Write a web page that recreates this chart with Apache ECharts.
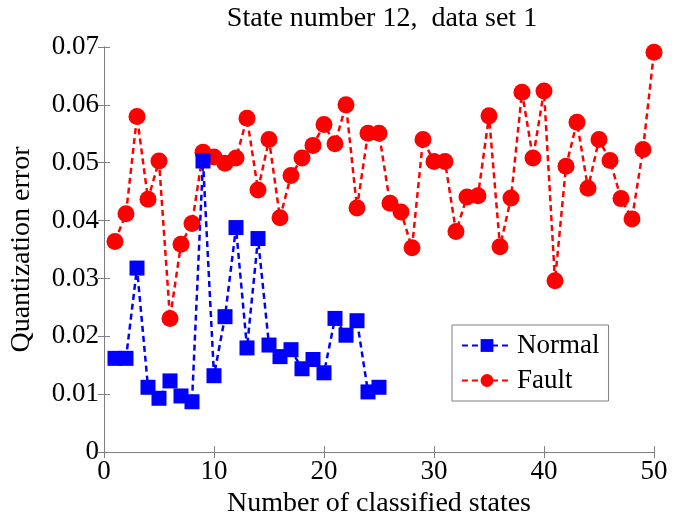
<!DOCTYPE html>
<html><head><meta charset="utf-8">
<script src="https://cdn.jsdelivr.net/npm/echarts@6/dist/echarts.min.js"></script>
<style>html,body{margin:0;padding:0;background:#fff}#c{width:681px;height:523px}</style>
</head><body><div id="c"></div>
<script>
var titleText = 'State number 12,  data set 1';
var xName = 'Number of classified states';
var yName = 'Quantization error';
var normalX = [1,2,3,4,5,6,7,8,9,10,11,12,13,14,15,16,17,18,19,20,21,22,23,24,25];
var normalY = [0.0162,0.0162,0.0318,0.0112,0.0093,0.0123,0.0097,0.0087,0.0503,0.0132,0.0234,0.0388,0.0180,0.0369,0.0185,0.0165,0.0177,0.0144,0.0160,0.0137,0.0231,0.0202,0.0227,0.0104,0.0112];
var faultX = [1,2,3,4,5,6,7,8,9,10,11,12,13,14,15,16,17,18,19,20,21,22,23,24,25,
  26,27,28,29,30,31,32,33,34,35,36,37,38,39,40,41,42,43,44,45,46,47,48,49,50];
var faultY = [0.0364,0.0412,0.0580,0.0437,0.0503,0.0231,0.0359,0.0395,0.0518,0.0510,
  0.0499,0.0508,0.0577,0.0453,0.0540,0.0405,0.0478,0.0508,0.0530,0.0566,
  0.0533,0.0600,0.0422,0.0551,0.0551,0.0430,0.0415,0.0353,0.0540,0.0502,
  0.0502,0.0381,0.0441,0.0443,0.0581,0.0355,0.0439,0.0622,0.0508,0.0624,
  0.0296,0.0494,0.0570,0.0456,0.0540,0.0504,0.0438,0.0403,0.0523,0.0691];
var xTicks = [0,10,20,30,40,50];
var yTicks = [0,0.01,0.02,0.03,0.04,0.05,0.06,0.07];

function pairs(xs, ys){ return xs.map(function(x,i){ return [x, ys[i]]; }); }
var font = '"Liberation Serif", "Times New Roman", serif';
var frame = '#808080';
var chart = echarts.init(document.getElementById('c'));
var axisCommon = {
  axisLine: {show: true, lineStyle: {color: frame, width: 1}},
  axisTick: {show: true, inside: true, length: 6, lineStyle: {color: frame}},
  splitLine: {show: false}
};
chart.setOption({
  animation: false,
  backgroundColor: '#fff',
  title: {text: titleText, left: 377, textAlign: 'center', top: 0,
    textStyle: {fontFamily: font, fontSize: 28, fontWeight: 'normal', color: '#000'}},
  grid: {left: 104, right: 27, top: 47, bottom: 66},
  legend: {
    data: ['Normal', 'Fault'], orient: 'vertical', left: 452, top: 325,
    padding: [7, 9, 7, 9], itemGap: 8, itemWidth: 50, itemHeight: 16,
    borderColor: frame, borderWidth: 1, backgroundColor: '#fff',
    textStyle: {fontFamily: font, fontSize: 27, color: '#000'}
  },
  xAxis: [
    Object.assign({type: 'value', min: xTicks[0], max: xTicks[xTicks.length-1], interval: 10, position: 'bottom',
      name: xName, nameLocation: 'middle', nameGap: 36,
      nameTextStyle: {fontFamily: font, fontSize: 28, color: '#000'},
      axisLabel: {fontFamily: font, fontSize: 27, color: '#000', margin: 6}}, axisCommon),
    Object.assign({type: 'value', min: xTicks[0], max: xTicks[xTicks.length-1], interval: 10, position: 'top',
      axisLabel: {show: false}}, axisCommon)
  ],
  yAxis: [
    Object.assign({type: 'value', min: yTicks[0], max: yTicks[yTicks.length-1], interval: 0.01, position: 'left',
      name: yName, nameLocation: 'middle', nameGap: 68,
      nameTextStyle: {fontFamily: font, fontSize: 28, color: '#000'},
      axisLabel: {fontFamily: font, fontSize: 27, color: '#000', margin: 5,
        formatter: function(v){ return v === 0 ? '0' : v.toFixed(2); }}}, axisCommon),
    Object.assign({type: 'value', min: yTicks[0], max: yTicks[yTicks.length-1], interval: 0.01, position: 'right',
      axisLabel: {show: false}}, axisCommon)
  ],
  series: [
    {name: 'Normal', type: 'line', data: pairs(normalX, normalY),
      symbol: 'rect', symbolSize: 15, showAllSymbol: true,
      lineStyle: {color: '#0000ff', width: 2.5, type: [6, 4]},
      itemStyle: {color: '#0000ff', borderWidth: 0}, z: 3},
    {name: 'Fault', type: 'line', data: pairs(faultX, faultY),
      symbol: 'circle', symbolSize: 17, showAllSymbol: true,
      lineStyle: {color: '#ff0000', width: 2.5, type: [6, 4]},
      itemStyle: {color: '#ff0000', borderWidth: 0}, z: 2}
  ]
});
</script></body></html>
